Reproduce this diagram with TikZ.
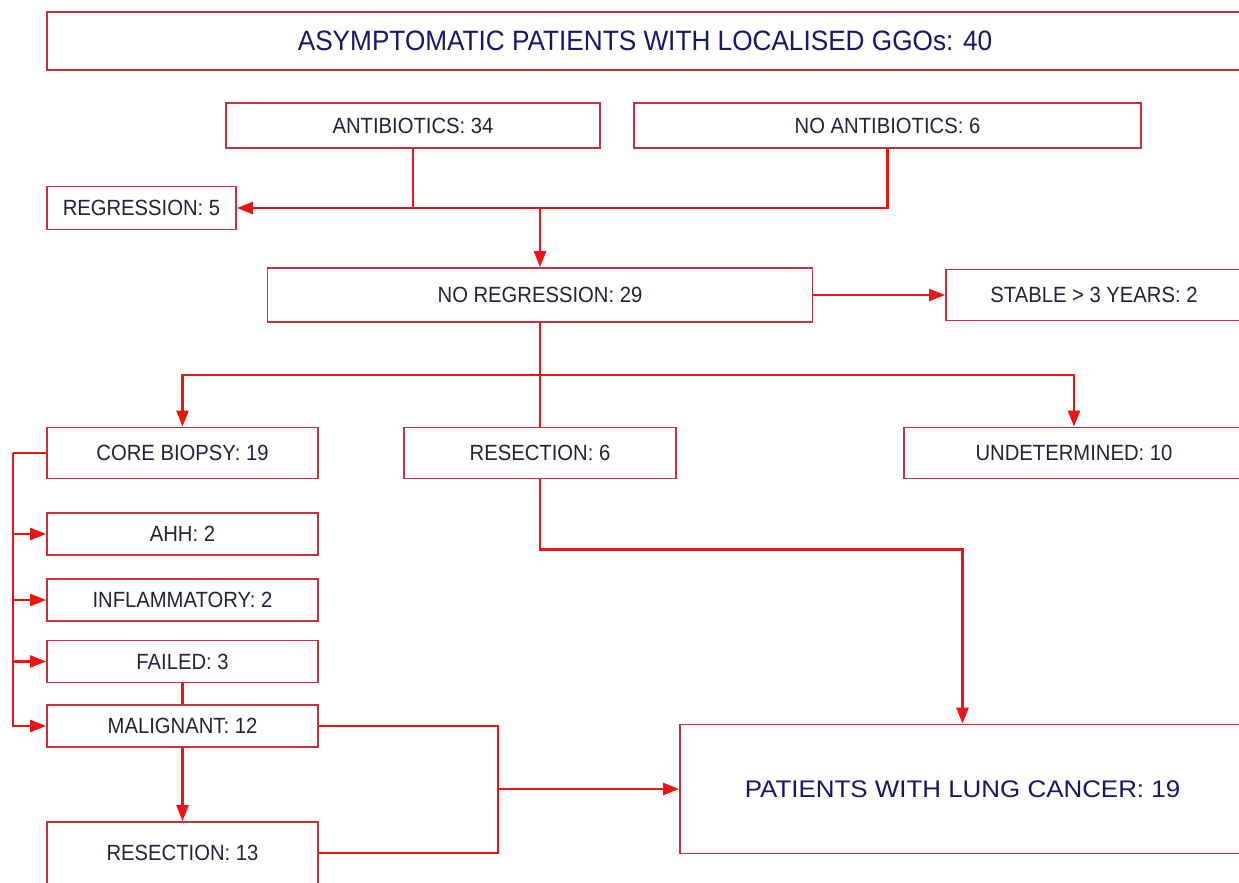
\documentclass[tikz,border=0pt]{standalone}
\usepackage{fontspec}
\setmainfont{Liberation Sans}
\newfontfamily\smallfnt[FakeStretch=0.92]{Liberation Sans}
\newfontfamily\topfnt[FakeStretch=0.935]{Liberation Sans}
\newfontfamily\lungfnt[FakeStretch=1.08]{Liberation Sans}
\usetikzlibrary{arrows.meta}
\definecolor{boxred}{HTML}{C8303C}
\definecolor{linered}{HTML}{EE1414}
\definecolor{txtdark}{HTML}{22223A}
\definecolor{txtnavy}{HTML}{16166A}
\tikzset{
  box/.style={draw=boxred, line width=1.8pt, fill=white, inner sep=0pt,
    text=txtdark, font=\smallfnt\fontsize{22}{24}\selectfont},
  bigbox/.style={box, text=txtnavy},
  conn/.style={draw=linered, line width=2.6pt},
  arr/.style={conn, -{Triangle[length=16pt,width=12pt]}},
}
\begin{document}
\begin{tikzpicture}[x=1pt,y=-1pt]
\useasboundingbox (0,0) rectangle (1239,883);
\clip (0,0) rectangle (1239,883);
\fill[white] (0,0) rectangle (1239,883);

\node[bigbox, minimum width=1196pt, minimum height=58pt, font=\topfnt\fontsize{28}{30}\selectfont] (top) at (645,41) {ASYMPTOMATIC PATIENTS WITH LOCALISED GGOs: 40};

\node[box, minimum width=374pt, minimum height=45pt] (ab) at (413,125.5) {ANTIBIOTICS: 34};
\node[box, minimum width=507pt, minimum height=45pt] (na) at (887.5,125.5) {NO ANTIBIOTICS: 6};
\node[box, minimum width=189pt, minimum height=43pt] (reg) at (141.5,208) {REGRESSION: 5};
\node[box, minimum width=545pt, minimum height=54pt] (nr) at (540,295) {NO REGRESSION: 29};
\node[box, minimum width=296pt, minimum height=51pt] (st) at (1094,295) {STABLE > 3 YEARS: 2};

\node[box, minimum width=271pt, minimum height=51pt] (core) at (182.5,453) {CORE BIOPSY: 19};
\node[box, minimum width=272pt, minimum height=51pt] (res6) at (540,453) {RESECTION: 6};
\node[box, minimum width=340pt, minimum height=51pt] (und) at (1074,453) {UNDETERMINED: 10};

\node[box, minimum width=271pt, minimum height=42pt] (ahh) at (182.5,534) {AHH: 2};
\node[box, minimum width=271pt, minimum height=42pt] (inf) at (182.5,600) {INFLAMMATORY: 2};
\node[box, minimum width=271pt, minimum height=42pt] (fail) at (182.5,661.5) {FAILED: 3};
\node[box, minimum width=271pt, minimum height=42pt] (mal) at (182.5,726) {MALIGNANT: 12};
\node[box, minimum width=271pt, minimum height=62pt] (res13) at (182.5,853) {RESECTION: 13};

\node[bigbox, minimum width=565pt, minimum height=129pt, font=\lungfnt\fontsize{24}{26}\selectfont] (lung) at (962.5,789) {PATIENTS WITH LUNG CANCER: 19};

% antibiotics split
\coordinate (j1) at (540,208);
\draw[conn] (ab.south) -- (ab.south |- reg.east);
\draw[arr] (na.south) |- (reg.east);
\draw[arr] (j1) -- (nr.north);

% no regression
\draw[arr] (nr.east) -- (st.west);
\coordinate (j2) at (540,375);
\draw[conn] (nr.south) -- (res6.north);
\draw[arr] (j2) -| (core.north);
\draw[arr] (j2) -| (und.north);

% resection 6 to lung cancer
\draw[arr] (res6.south) -- ++(0,70) -| (lung.north);

% core biopsy bus
\draw[conn] (core.west) -- ++(-33,0) coordinate (b1);
\draw[arr] (b1) |- (mal.west);
\draw[arr] (b1 |- ahh.west) -- (ahh.west);
\draw[arr] (b1 |- inf.west) -- (inf.west);
\draw[arr] (b1 |- fail.west) -- (fail.west);

\draw[conn] (fail.south) -- (mal.north);
\draw[arr] (mal.south) -- (res13.north);

% malignant / resection 13 to lung cancer
\coordinate (j3) at (498,789);
\draw[conn] (mal.east) -| (j3) |- (res13.east);
\draw[arr] (j3) -- (lung.west);
\end{tikzpicture}
\end{document}
